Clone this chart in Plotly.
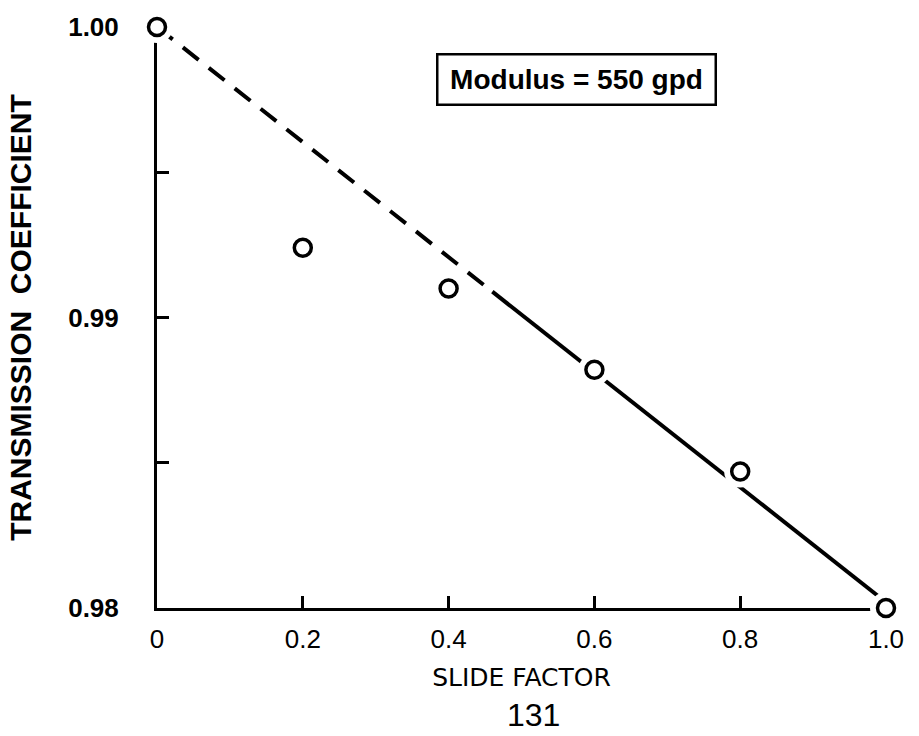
import plotly.graph_objects as go

# Data
slide_factor = [0.0, 0.2, 0.4, 0.6, 0.8, 1.0]
transmission = [1.000, 0.9924, 0.9910, 0.9882, 0.9847, 0.9800]

# Fitted line: dashed part then solid part
fit_dash_x = [0.0, 0.46]
fit_dash_y = [1.000, 0.99089]
fit_solid_x = [0.46, 1.0]
fit_solid_y = [0.99089, 0.9802]

x_tickvals = [0, 0.2, 0.4, 0.6, 0.8, 1.0]
x_ticktext = ["0", "0.2", "0.4", "0.6", "0.8", "1.0"]
y_tickvals = [0.98, 0.99, 1.00]
y_ticktext = ["<b>0.98</b>", "<b>0.99</b>", "<b>1.00</b>"]

FONT = "Liberation Sans"
WIDE = "DejaVu Sans"

fig = go.Figure()
fig.add_trace(go.Scatter(x=fit_dash_x, y=fit_dash_y, mode="lines",
                         line=dict(color="black", width=4, dash="20px,13px"),
                         showlegend=False, hoverinfo="skip", cliponaxis=False))
fig.add_trace(go.Scatter(x=fit_solid_x, y=fit_solid_y, mode="lines",
                         line=dict(color="black", width=4),
                         showlegend=False, hoverinfo="skip", cliponaxis=False))
# white halo to create gaps around the circles
fig.add_trace(go.Scatter(x=slide_factor, y=transmission, mode="markers",
                         marker=dict(symbol="circle", size=32, color="white",
                                     line=dict(width=0)),
                         showlegend=False, hoverinfo="skip", cliponaxis=False))
fig.add_trace(go.Scatter(x=slide_factor, y=transmission, mode="markers",
                         marker=dict(symbol="circle", size=17, color="white",
                                     line=dict(color="black", width=3.5)),
                         showlegend=False, cliponaxis=False))

fig.update_layout(
    width=919, height=736,
    margin=dict(l=157, r=33, t=25, b=128),
    paper_bgcolor="white", plot_bgcolor="white",
    font=dict(family=FONT, color="black"),
    xaxis=dict(
        range=[0, 1.0], tickvals=x_tickvals, ticktext=x_ticktext,
        ticks="inside", ticklen=12, tickwidth=2.5, tickcolor="black",
        showline=True, linecolor="black", linewidth=3,
        showgrid=False, zeroline=False, layer="below traces",
        tickfont=dict(size=26, family=FONT), ticklabelstandoff=6,
        title=dict(text="SLIDE FACTOR", font=dict(size=25, family=WIDE), standoff=16),
    ),
    yaxis=dict(
        range=[0.98, 1.00], tickvals=y_tickvals, ticktext=y_ticktext,
        ticks="inside", ticklen=12, tickwidth=2.5, tickcolor="black",
        minor=dict(tickvals=[0.985, 0.995], ticks="inside", ticklen=12,
                   tickwidth=2.5, tickcolor="black", showgrid=False),
        showline=True, linecolor="black", linewidth=3,
        showgrid=False, zeroline=False, layer="below traces",
        tickfont=dict(size=26, family=FONT), ticklabelstandoff=30,
        title=dict(text="<b>TRANSMISSION  COEFFICIENT</b>",
                   font=dict(size=30, family=FONT), standoff=28),
    ),
    annotations=[
        dict(text="<b>Modulus = 550 gpd</b>", x=0.575, y=0.909,
             xref="paper", yref="paper", showarrow=False,
             xanchor="center", yanchor="middle",
             font=dict(size=28, family=FONT, color="black"),
             bordercolor="black", borderwidth=2.5, borderpad=2,
             width=272, height=44, bgcolor="white"),
        dict(text="131", x=0.517, y=-0.1835, xref="paper", yref="paper",
             showarrow=False, xanchor="center", yanchor="middle",
             font=dict(size=32, family=FONT, color="black")),
    ],
)

fig.write_html("out.html")
